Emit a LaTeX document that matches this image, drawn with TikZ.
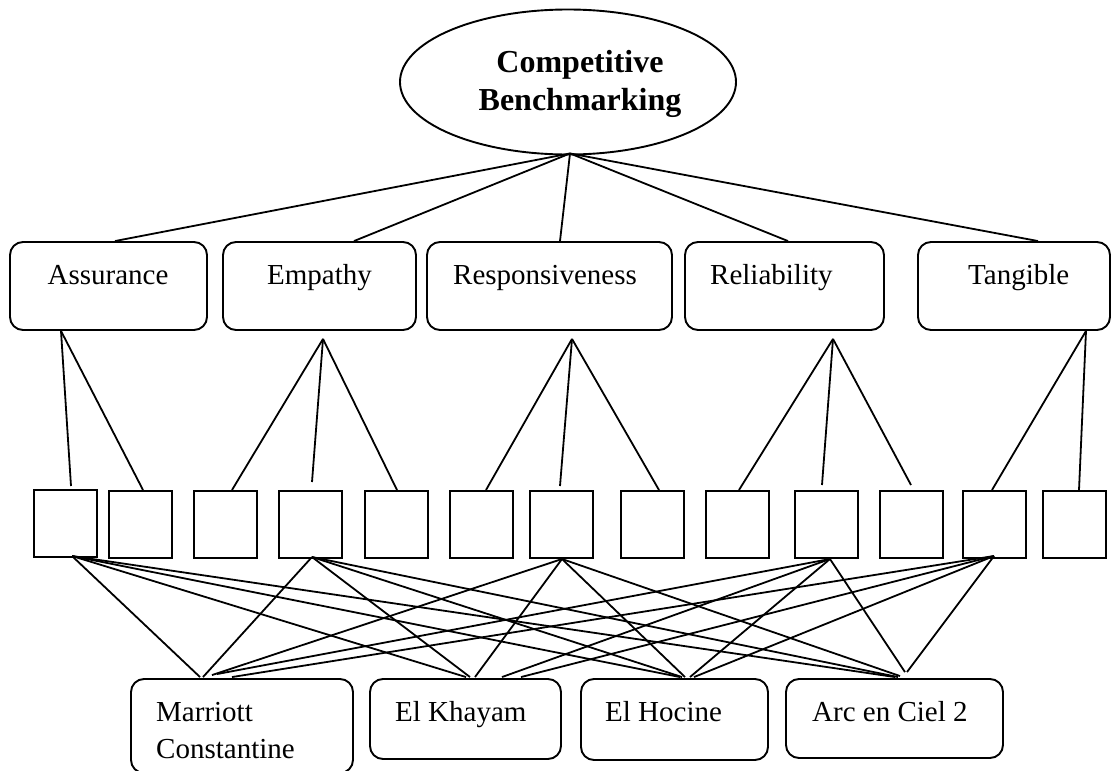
\documentclass[tikz,border=0pt]{standalone}
\usepackage{fontspec}
\setmainfont{Liberation Serif}
\usetikzlibrary{shapes.geometric}
\begin{document}
\begin{tikzpicture}[x=1pt,y=-1pt,
  ubox/.style={draw,rounded corners=13pt,line width=1.9pt,inner sep=0pt,minimum height=88pt},
  bbox/.style={draw,rounded corners=13pt,line width=1.9pt,inner sep=0pt},
  sbox/.style={draw,line width=2pt,minimum width=63pt,minimum height=67pt,inner sep=0pt},
  lbl/.style={inner sep=0pt,font=\fontsize{29}{37}\selectfont},
  conn/.style={line width=1.8pt}]
\useasboundingbox (0,0) rectangle (1112,771);
% top ellipse
\node[draw,ellipse,minimum width=336pt,minimum height=145pt,line width=1.9pt,inner sep=0pt] (cb) at (568,82) {};
\node[inner sep=0pt,font=\fontsize{32}{38}\selectfont\bfseries,align=center,anchor=base] (cbt) at (580,110) {Competitive\\Benchmarking};
% upper boxes
\node[ubox,minimum width=197pt] (ass) at (108.5,286) {};
\node[ubox,minimum width=193pt] (emp) at (319.5,286) {};
\node[ubox,minimum width=245pt] (res) at (549.5,286) {};
\node[ubox,minimum width=199pt] (rel) at (784.5,286) {};
\node[ubox,minimum width=192pt] (tan) at (1014,286) {};
\node[lbl,anchor=base] (asst) at (108,284) {Assurance};
\node[lbl,anchor=base] (empt) at (319.5,284) {Empathy};
\node[lbl,anchor=base west] (rest) at (453,284) {Responsiveness};
\node[lbl,anchor=base west] (relt) at (710,284) {Reliability};
\node[lbl,anchor=base west] (tant) at (968,284) {Tangible};
% small boxes
\node[sbox] (b1) at (65.5,523.5) {};
\foreach \n/\x in {b2/140.5,b3/225.5,b4/310.5,b5/396,b6/481.5,b7/561.5,b8/652.5,b9/737.5,b10/826,b11/911,b12/994,b13/1074}
  \node[sbox] (\n) at (\x,524.5) {};
% bottom boxes
\node[bbox,minimum width=222pt,minimum height=94pt] (mar) at (242,726) {};
\node[bbox,minimum width=191pt,minimum height=80pt] (elk) at (465.5,719) {};
\node[bbox,minimum width=187pt,minimum height=81pt] (elh) at (674.5,719.5) {};
\node[bbox,minimum width=217pt,minimum height=79pt] (arc) at (894.5,718.5) {};
\node[lbl,anchor=base west,align=left] (mart) at (156,758) {Marriott\\Constantine};
\node[lbl,anchor=base west] (elkt) at (395,721) {El Khayam};
\node[lbl,anchor=base west] (elht) at (605,721) {El Hocine};
\node[lbl,anchor=base west] (arct) at (812,721) {Arc en Ciel 2};
% ellipse to dimensions
\coordinate (cbh) at ([shift={(2,-2)}]cb.south);
\foreach \b/\dx in {ass/6.5,emp/34.5,res/10.5,rel/3.5,tan/24}
  \draw[conn] (cbh) -- ([shift={(\dx,0)}]\b.north);
% dimensions to items
\coordinate (assh) at ([shift={(-47.5,0)}]ass.south);
\coordinate (emph) at ([shift={(3.5,8)}]emp.south);
\coordinate (resh) at ([shift={(22.5,8)}]res.south);
\coordinate (relh) at ([shift={(48.5,8)}]rel.south);
\coordinate (tanh) at ([shift={(72,0)}]tan.south);
\foreach \h/\b/\dx/\dy in {assh/b1/5.5/-3, assh/b2/2.5/0,
    emph/b3/6.5/0, emph/b4/1.5/-8, emph/b5/1/0,
    resh/b6/4.5/0, resh/b7/-1.5/-4, resh/b8/6.5/0,
    relh/b9/1.5/0, relh/b10/-4/-5, relh/b11/0/-5,
    tanh/b12/-2/0, tanh/b13/5/0}
  \draw[conn] (\h) -- ([shift={(\dx,\dy)}]\b.north);
% items to hotels
\coordinate (b1h) at ([shift={(6.5,-2)}]b1.south);
\coordinate (b4h) at ([shift={(1.5,-2)}]b4.south);
\coordinate (b7h) at ([shift={(0.5,0)}]b7.south);
\coordinate (b10h) at ([shift={(4,0)}]b10.south);
\coordinate (b12h) at ([shift={(0,-3)}]b12.south);
\foreach \s/\t/\dx/\dy in {
    b1h/mar/-42/-1, b4h/mar/-39/-1, b7h/mar/-30/-3, b10h/mar/-25/-4, b12h/mar/-10/-1,
    b1h/elk/0.5/-1, b4h/elk/4.5/-1, b7h/elk/9.5/-1, b10h/elk/36.5/-1, b12h/elk/55.5/-1,
    b1h/elh/5.5/-1, b4h/elh/7.5/-1, b7h/elh/10.5/-1, b10h/elh/15.5/-1, b12h/elh/19.5/-1,
    b1h/arc/0.5/-1, b4h/arc/3.5/-1, b7h/arc/5.5/-2, b10h/arc/10.5/-6, b12h/arc/12.5/-6}
  \draw[conn] (\s) -- ([shift={(\dx,\dy)}]\t.north);
\end{tikzpicture}
\end{document}
